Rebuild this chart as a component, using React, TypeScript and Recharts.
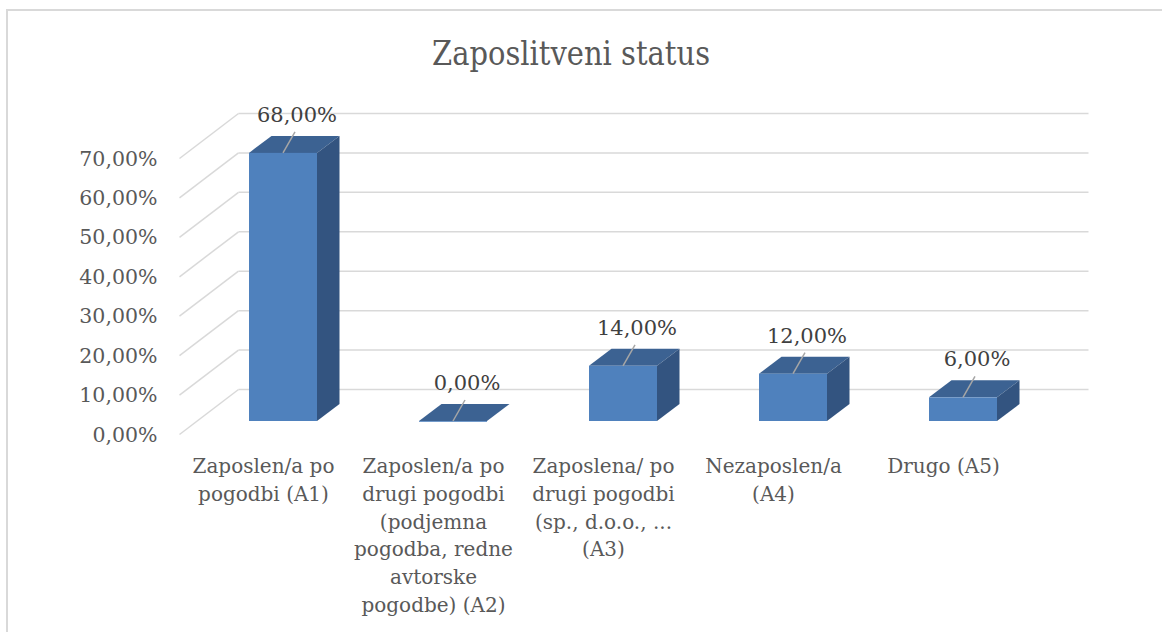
import React from "react";
import { BarChart, Bar, XAxis, YAxis, CartesianGrid, LabelList } from "recharts";

const title = "Zaposlitveni status";

const categories = [
  "Zaposlen/a po\npogodbi (A1)",
  "Zaposlen/a po\ndrugi pogodbi\n(podjemna\npogodba, redne\navtorske\npogodbe) (A2)",
  "Zaposlena/ po\ndrugi pogodbi\n(sp., d.o.o., ...\n(A3)",
  "Nezaposlen/a\n(A4)",
  "Drugo (A5)",
];

const shares = [0.68, 0, 0.14, 0.12, 0.06];

const yTicks = [0, 0.1, 0.2, 0.3, 0.4, 0.5, 0.6, 0.7];

const chartData = categories.map((name, i) => ({ name, share: shares[i] }));

// layout of the fake 3D box
const W = 1162;
const H = 632;
const PLOT = { left: 198, right: 1048, top: 145, bottom: 421 };
const Y_AXIS_W = 60;
const X_AXIS_H = 30;
const FRONT = { dx: -18.5, dy: 13.5 };
const BACK = { dx: 40.5, dy: -31.5 };
const DEPTH = { dx: 22.5, dy: -17 };

const FONT = "'DejaVu Serif', serif";
const TITLE_FONT = "'DejaVu Serif Condensed', 'DejaVu Serif', serif";
const TEXT = "#595959";
const GRID = "#d9d9d9";

const fmt = (v: number) => `${(v * 100).toFixed(2).replace(".", ",")}%`;

const GridLine = (props: any) => {
  const { x1, x2, y1 } = props;
  return (
    <g key={props.key}>
      <line
        x1={x1 + FRONT.dx}
        y1={y1 + FRONT.dy}
        x2={x1 + BACK.dx}
        y2={y1 + BACK.dy}
        stroke={GRID}
        strokeWidth={1.5}
      />
      <line
        x1={x1 + BACK.dx}
        y1={y1 + BACK.dy}
        x2={x2 + BACK.dx}
        y2={y1 + BACK.dy}
        stroke={GRID}
        strokeWidth={1.5}
      />
    </g>
  );
};

const YTick = (props: any) => {
  const { y, payload } = props;
  return (
    <text
      x={PLOT.left + FRONT.dx - 22}
      y={y + FRONT.dy}
      textAnchor="end"
      dominantBaseline="central"
      fontFamily={FONT}
      fontSize={20.5}
      fill={TEXT}
    >
      {fmt(payload.value)}
    </text>
  );
};

const XTick = (props: any) => {
  const { x, payload } = props;
  const lines = String(payload.value).split("\n");
  const cx = x + FRONT.dx - 1;
  return (
    <text
      x={cx}
      y={PLOT.bottom + 52}
      textAnchor="middle"
      fontFamily={FONT}
      fontSize={20}
      fill={TEXT}
    >
      {lines.map((line, i) => (
        <tspan key={i} x={cx} dy={i === 0 ? 0 : 27.8}>
          {line}
        </tspan>
      ))}
    </text>
  );
};

const Box3D = (props: any) => {
  const { x, y, width, height } = props;
  if (x == null || y == null) return null;
  const h = Math.max(height || 0, 0);
  const r = x + width;
  const b = y + h;
  return (
    <g>
      <polygon
        points={`${x},${y} ${r},${y} ${r + DEPTH.dx},${y + DEPTH.dy} ${x + DEPTH.dx},${y + DEPTH.dy}`}
        fill="#3c6292"
      />
      {h > 0 && (
        <polygon
          points={`${r},${y} ${r + DEPTH.dx},${y + DEPTH.dy} ${r + DEPTH.dx},${b + DEPTH.dy} ${r},${b}`}
          fill="#335480"
        />
      )}
      <rect x={x} y={y} width={width} height={Math.max(h, 0.8)} fill="#4f81bd" />
    </g>
  );
};

const ValueLabel = (props: any) => {
  const { x, y, width, value } = props;
  const cx = x + width / 2;
  return (
    <g>
      <line x1={cx} y1={y} x2={cx + 12} y2={y - 21} stroke="#a6a6a6" strokeWidth={1.5} />
      <text
        x={cx + 14}
        y={y - 31}
        textAnchor="middle"
        fontFamily={FONT}
        fontSize={21}
        fill="#404040"
      >
        {fmt(value)}
      </text>
    </g>
  );
};

export default function App() {
  return (
    <div
      style={{
        position: "absolute",
        left: 0,
        top: 0,
        width: W,
        height: H,
        background: "#fff",
        overflow: "hidden",
      }}
    >
      <div
        style={{
          position: "absolute",
          left: 6,
          top: 9,
          right: 0,
          bottom: 0,
          borderTop: `2px solid ${GRID}`,
          borderLeft: `2px solid ${GRID}`,
        }}
      />
      <svg width={W} height={90} style={{ position: "absolute", left: 0, top: 0 }}>
        <text
          x={571}
          y={65}
          textAnchor="middle"
          fontFamily={TITLE_FONT}
          fontSize={33}
          textLength={278}
          lengthAdjust="spacingAndGlyphs"
          fill={TEXT}
        >
          {title}
        </text>
      </svg>
      <div style={{ position: "absolute", left: 0, top: 0 }}>
        <BarChart
          width={W}
          height={H}
          data={chartData}
          margin={{
            left: PLOT.left - Y_AXIS_W,
            right: W - PLOT.right,
            top: PLOT.top,
            bottom: H - PLOT.bottom - X_AXIS_H,
          }}
          barSize={68}
        >
          <CartesianGrid vertical={false} horizontal={GridLine} />
          <XAxis
            dataKey="name"
            height={X_AXIS_H}
            axisLine={false}
            tickLine={false}
            interval={0}
            tick={XTick}
          />
          <YAxis
            width={Y_AXIS_W}
            domain={[0, 0.7]}
            ticks={yTicks}
            axisLine={false}
            tickLine={false}
            tick={YTick}
          />
          <Bar dataKey="share" shape={Box3D} isAnimationActive={false}>
            <LabelList dataKey="share" content={ValueLabel} />
          </Bar>
        </BarChart>
      </div>
    </div>
  );
}
